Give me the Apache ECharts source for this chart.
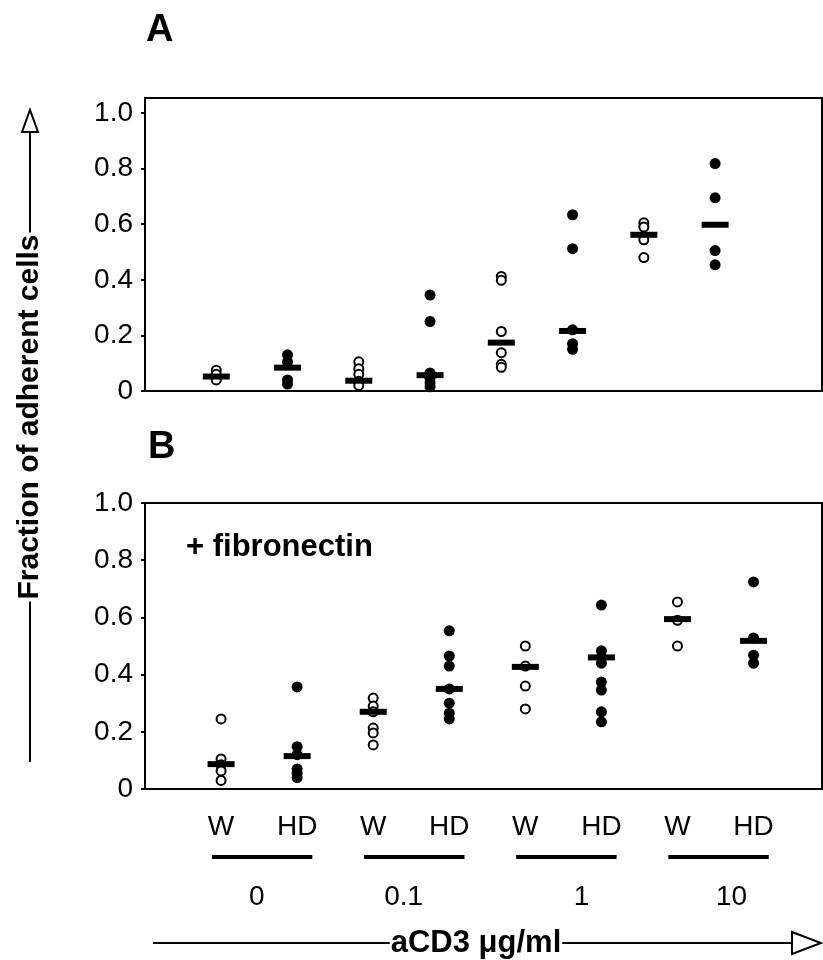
<!DOCTYPE html>
<html>
<head>
<meta charset="utf-8">
<script src="https://cdn.jsdelivr.net/npm/echarts@6/dist/echarts.min.js"></script>
<style>
  html, body { margin: 0; padding: 0; background: #fff; }
  #chart { width: 823px; height: 960px; }
</style>
</head>
<body>
<div id="chart"></div>
<script>
// groups along x: W / HD at each aCD3 dose
const groups = ['W', 'HD', 'W', 'HD', 'W', 'HD', 'W', 'HD'];
const doses = ['0', '0.1', '1', '10'];
const yTicks = [0, 0.2, 0.4, 0.6, 0.8, 1.0];

// panel A (no fibronectin), one list per group
const panelA = [
  [0.075, 0.06, 0.04],
  [0.13, 0.105, 0.04, 0.025],
  [0.105, 0.08, 0.06, 0.035, 0.02],
  [0.345, 0.25, 0.065, 0.045, 0.03, 0.015],
  [0.412, 0.398, 0.214, 0.138, 0.096, 0.085],
  [0.634, 0.512, 0.22, 0.17, 0.15],
  [0.605, 0.59, 0.544, 0.48],
  [0.818, 0.695, 0.505, 0.454]
];
const medianA = [0.052, 0.084, 0.037, 0.057, 0.174, 0.216, 0.562, 0.598];

// panel B (+ fibronectin)
const panelB = [
  [0.245, 0.105, 0.085, 0.063, 0.03],
  [0.357, 0.148, 0.12, 0.07, 0.055, 0.04],
  [0.318, 0.29, 0.27, 0.213, 0.196, 0.154],
  [0.553, 0.465, 0.43, 0.35, 0.30, 0.265, 0.245],
  [0.50, 0.43, 0.36, 0.28],
  [0.643, 0.483, 0.46, 0.44, 0.374, 0.346, 0.27, 0.235],
  [0.654, 0.59, 0.50],
  [0.724, 0.528, 0.468, 0.44]
];
const medianB = [0.087, 0.115, 0.27, 0.35, 0.427, 0.46, 0.594, 0.518];

const FONT = 'Liberation Sans, Arial, Helvetica, sans-serif';
// where the dose numbers sit on the x scale of panel B (layout only)
const doseLabelAt = [1.47, 3.4, 5.74, 7.71];

function points(vals, kind) {
  const out = [];
  vals.forEach((list, i) => {
    if (groups[i] !== kind) return;
    list.forEach(v => out.push([i + 1, v]));
  });
  return out;
}
function medians(meds) {
  return meds.map((v, i) => [i + 1, v]);
}

function panelSeries(vals, meds, idx) {
  return [
    {
      type: 'scatter', xAxisIndex: idx, yAxisIndex: idx,
      data: points(vals, 'W'), symbol: 'circle', symbolSize: 9,
      itemStyle: { color: '#fff', borderColor: '#000', borderWidth: 2, opacity: 1 },
      z: 2
    },
    {
      type: 'scatter', xAxisIndex: idx, yAxisIndex: idx,
      data: points(vals, 'HD'), symbol: 'circle', symbolSize: 11,
      itemStyle: { color: '#000', opacity: 1 },
      z: 3
    },
    {
      type: 'scatter', xAxisIndex: idx, yAxisIndex: idx,
      data: medians(meds), symbol: 'rect', symbolSize: [27, 6],
      itemStyle: { color: '#000', opacity: 1 },
      z: 4
    }
  ];
}

const yAxisBase = (max) => ({
  type: 'value', min: 0, max: max,
  axisLine: { show: true, lineStyle: { color: '#000', width: 2 } },
  axisTick: { show: true, length: 4, customValues: yTicks, lineStyle: { color: '#000', width: 2 } },
  axisLabel: {
    customValues: yTicks, margin: 12,
    color: '#000', fontSize: 28, fontFamily: FONT,
    formatter: v => (v === 0 ? '0' : v.toFixed(1))
  },
  splitLine: { show: false }
});

const chart = echarts.init(document.getElementById('chart'));
const option = {
  backgroundColor: '#fff',
  animation: false,
  grid: [
    { left: 145, right: 1, top: 98, bottom: 569, show: true, borderColor: '#000', borderWidth: 2 },
    { left: 145, right: 1, top: 503, bottom: 171, show: true, borderColor: '#000', borderWidth: 2 }
  ],
  xAxis: [
    { gridIndex: 0, type: 'value', min: 0, max: 9.5, show: false },
    {
      gridIndex: 1, type: 'value', min: 0, max: 8.9,
      axisLine: { show: false }, axisTick: { show: false }, splitLine: { show: false },
      axisLabel: {
        customValues: groups.map((g, i) => i + 1), margin: 24,
        color: '#000', fontSize: 28, fontFamily: FONT,
        formatter: v => groups[v - 1]
      }
    }
  ],
  yAxis: [
    Object.assign({ gridIndex: 0 }, yAxisBase(1.054)),
    Object.assign({ gridIndex: 1 }, yAxisBase(1.0))
  ],
  series: panelSeries(panelA, medianA, 0).concat(panelSeries(panelB, medianB, 1))
};
chart.setOption(option);

// decorations: panel letters, axis arrows, dose underlines
const g = [];
const bold = (size) => 'bold ' + size + 'px ' + FONT;
g.push({ type: 'text', left: 146, top: 12, style: { text: 'A', font: bold(38), fill: '#000' } });
g.push({ type: 'text', left: 148, top: 429, style: { text: 'B', font: bold(38), fill: '#000' } });
g.push({ type: 'text', left: 186, top: 532, style: { text: '+ fibronectin', font: bold(31), fill: '#000' } });

// vertical arrow with label
g.push({ type: 'line', shape: { x1: 30, y1: 762, x2: 30, y2: 132 }, style: { stroke: '#000', lineWidth: 2 } });
g.push({ type: 'polygon', shape: { points: [[22, 132], [30, 110], [38, 132]] }, style: { fill: '#fff', stroke: '#000', lineWidth: 2 } });
g.push({
  type: 'text', x: 30, y: 417, rotation: Math.PI / 2,
  style: { text: 'Fraction of adherent cells', font: bold(30), fill: '#000', align: 'center', verticalAlign: 'middle',
           backgroundColor: '#fff', padding: [0, 2] }
});

// horizontal arrow with label
g.push({ type: 'line', shape: { x1: 153, y1: 943, x2: 792, y2: 943 }, style: { stroke: '#000', lineWidth: 2 } });
g.push({ type: 'polygon', shape: { points: [[792, 932], [821, 943], [792, 954]] }, style: { fill: '#fff', stroke: '#000', lineWidth: 2 } });
g.push({
  type: 'text', x: 476, y: 943,
  style: { text: 'aCD3 μg/ml', font: bold(31), fill: '#000', align: 'center', verticalAlign: 'middle',
           backgroundColor: '#fff', padding: [0, 1] }
});

// underline each W/HD pair and put the dose under it
doses.forEach((d, k) => {
  const first = 2 * k + 1;
  const x1 = chart.convertToPixel({ xAxisIndex: 1 }, first - 0.12);
  const x2 = chart.convertToPixel({ xAxisIndex: 1 }, first + 1.2);
  g.push({ type: 'line', shape: { x1: x1, y1: 857, x2: x2, y2: 857 }, style: { stroke: '#000', lineWidth: 4 } });
  g.push({
    type: 'text', x: chart.convertToPixel({ xAxisIndex: 1 }, doseLabelAt[k]), y: 897,
    style: { text: d, font: '28px ' + FONT, fill: '#000', align: 'center', verticalAlign: 'middle' }
  });
});

chart.setOption({ graphic: g });
</script>
</body>
</html>
